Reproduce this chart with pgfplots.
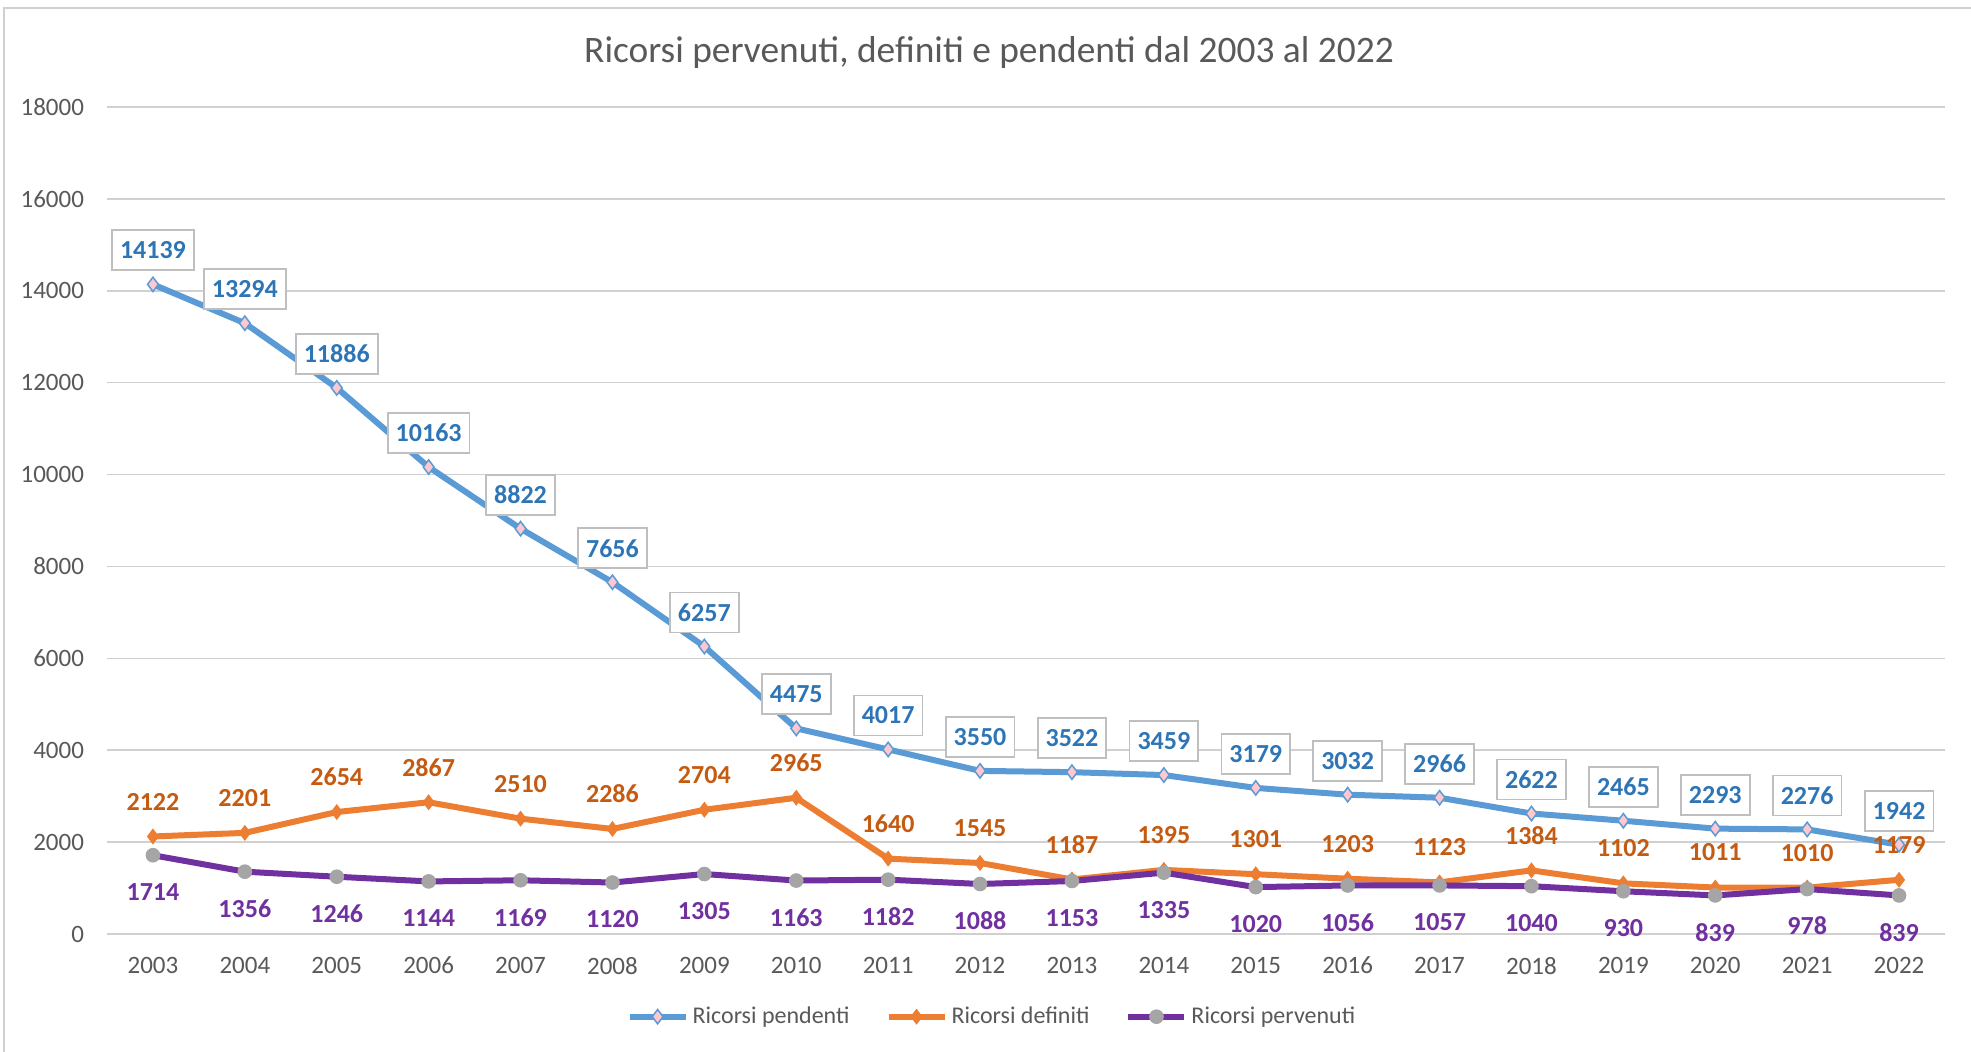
\documentclass[border=0pt]{standalone}
\usepackage{fontspec}
\setmainfont{Carlito}
\usepackage{pgfplots}
\pgfplotsset{compat=1.18}

\definecolor{cBlue}{HTML}{5B9BD5}
\definecolor{cBlueTxt}{HTML}{2E75B6}
\definecolor{cPink}{HTML}{FFC7CE}
\definecolor{cOrange}{HTML}{ED7D31}
\definecolor{cOrangeTxt}{HTML}{C55A11}
\definecolor{cPurple}{HTML}{7030A0}
\definecolor{cGrayMark}{HTML}{A5A5A5}
\definecolor{cGrid}{HTML}{D0D0D0}
\definecolor{cText}{HTML}{595959}

\begin{document}
\begin{tikzpicture}
  \useasboundingbox (0,0) rectangle (985.5pt,526pt);
  \fill[white] (0,0) rectangle (985.5pt,526pt);
  \draw[cGrid, line width=1pt] (2pt,-10pt) rectangle (1000pt,522pt);
  \node[font=\fontsize{18.7}{22}\selectfont, text=cText] at (494.5pt,499.5pt)
    {Ricorsi pervenuti, definiti e pendenti dal 2003 al 2022};

  \begin{axis}[
    at={(53.5pt,59pt)}, anchor=south west,
    scale only axis, width=919pt, height=413.5pt,
    xmin=-0.5, xmax=19.5, ymin=0, ymax=18000,
    ytick={0,2000,4000,6000,8000,10000,12000,14000,16000,18000},
    scaled y ticks=false,
    xtick={0,...,19},
    xticklabels={2003,2004,2005,2006,2007,2008,2009,2010,2011,2012,
                 2013,2014,2015,2016,2017,2018,2019,2020,2021,2022},
    axis line style={draw=none},
    major tick length=0pt,
    ymajorgrids, grid style={cGrid, line width=0.75pt},
    /pgf/number format/assume math mode=true,
    /pgf/number format/1000 sep={},
    tick label style={font=\fontsize{12.5}{15}\selectfont, text=cText},
    yticklabel style={xshift=-8pt},
    xticklabel style={yshift=-8pt},
    legend columns=3,
    legend style={draw=none, fill=none, at={(0.482,-0.1)}, anchor=center,
      font=\fontsize{12}{14}\selectfont, text=cText,
      /tikz/every even column/.append style={column sep=16pt}},
    legend image code/.code={
      \draw[mark repeat=2, mark phase=2]
        plot coordinates {(0pt,0pt) (14pt,0pt) (28pt,0pt)};},
    legend cell align=left,
  ]

    % Ricorsi pendenti
    \addplot[color=cBlue, line width=3pt, mark=diamond*, mark size=3.6pt,
      mark options={fill=cPink, draw=cBlue, line width=0.75pt},
      nodes near coords,
      nodes near coords style={font=\fontsize{13}{16}\bfseries, text=cBlueTxt,
        draw=black!25, fill=white, line width=0.9pt, anchor=center, yshift=17pt,
        inner xsep=4pt, minimum height=20pt}]
    coordinates {
      (0,14139) (1,13294) (2,11886) (3,10163) (4,8822)
      (5,7656) (6,6257) (7,4475) (8,4017) (9,3550)
      (10,3522) (11,3459) (12,3179) (13,3032) (14,2966)
      (15,2622) (16,2465) (17,2293) (18,2276) (19,1942)
    };

    % Ricorsi definiti
    \addplot[color=cOrange, line width=3pt, mark=diamond*, mark size=3.6pt,
      mark options={fill=cOrange, draw=cOrange, line width=0.5pt},
      nodes near coords,
      nodes near coords style={font=\fontsize{13}{16}\bfseries, text=cOrangeTxt,
        anchor=center, yshift=17.5pt}]
    coordinates {
      (0,2122) (1,2201) (2,2654) (3,2867) (4,2510)
      (5,2286) (6,2704) (7,2965) (8,1640) (9,1545)
      (10,1187) (11,1395) (12,1301) (13,1203) (14,1123)
      (15,1384) (16,1102) (17,1011) (18,1010) (19,1179)
    };

    % Ricorsi pervenuti
    \addplot[color=cPurple, line width=3pt, mark=*, mark size=3.4pt,
      mark options={fill=cGrayMark, draw=cGrayMark, line width=0.5pt},
      nodes near coords,
      nodes near coords style={font=\fontsize{13}{16}\bfseries, text=cPurple,
        anchor=center, yshift=-18.5pt}]
    coordinates {
      (0,1714) (1,1356) (2,1246) (3,1144) (4,1169)
      (5,1120) (6,1305) (7,1163) (8,1182) (9,1088)
      (10,1153) (11,1335) (12,1020) (13,1056) (14,1057)
      (15,1040) (16,930) (17,839) (18,978) (19,839)
    };

    \legend{Ricorsi pendenti, Ricorsi definiti, Ricorsi pervenuti}
  \end{axis}
\end{tikzpicture}
\end{document}
